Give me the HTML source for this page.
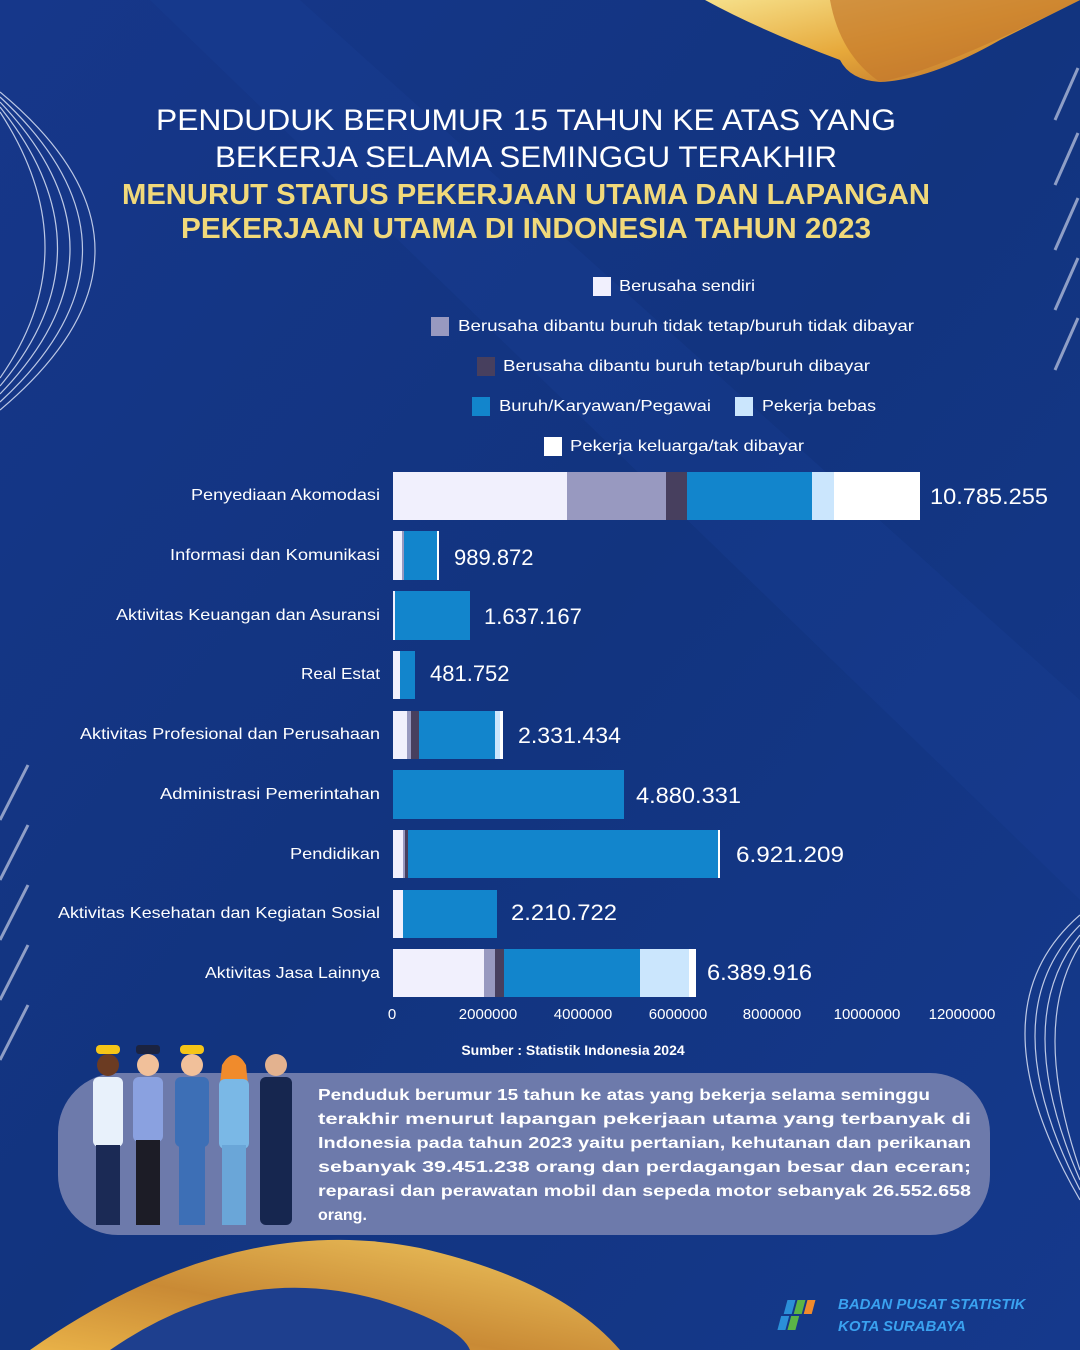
<!DOCTYPE html>
<html><head><meta charset="utf-8"><style>
html,body{margin:0;padding:0;width:1080px;height:1350px;overflow:hidden;background:#123582}
svg{display:block}
text{font-family:"Liberation Sans",sans-serif}
</style></head><body>
<svg width="1080" height="1350" viewBox="0 0 1080 1350" xmlns="http://www.w3.org/2000/svg">
<defs>
<linearGradient id="bg" x1="0" y1="0" x2="1" y2="1">
<stop offset="0" stop-color="#16378a"/><stop offset="0.5" stop-color="#12347f"/><stop offset="1" stop-color="#15398c"/>
</linearGradient>
<linearGradient id="gold" x1="0" y1="0" x2="1" y2="1">
<stop offset="0" stop-color="#f6e08a"/><stop offset="0.5" stop-color="#e6a83a"/><stop offset="1" stop-color="#b5682a"/>
</linearGradient>
<linearGradient id="gold2" x1="0" y1="1" x2="1" y2="0">
<stop offset="0" stop-color="#e9b248"/><stop offset="0.4" stop-color="#c98a35"/><stop offset="1" stop-color="#f0c860"/>
</linearGradient>
</defs>
<rect width="1080" height="1350" fill="url(#bg)"/>
<path d="M300 0 L1080 700 L1080 900 L150 0Z" fill="#1a3f95" opacity="0.35"/>
<!-- top gold -->
<path d="M705 0 L1080 0 L1000 40 Q930 80 880 82 Q850 80 840 60 Q760 30 705 0Z" fill="url(#gold)"/>
<path d="M830 0 Q840 55 880 82 Q940 70 1080 0Z" fill="#c4792c" opacity="0.7"/>
<!-- left arcs -->
<g fill="none" stroke="#cfd8f0" stroke-width="1.2" opacity="0.9">
<path d="M0 92 Q190 250 0 410"/><path d="M0 97 Q165 250 0 402"/><path d="M0 102 Q140 250 0 394"/><path d="M0 107 Q115 250 0 386"/><path d="M0 112 Q90 250 0 378"/>
</g>
<!-- right arcs -->
<g fill="none" stroke="#cfd8f0" stroke-width="1.2" opacity="0.9">
<path d="M1080 915 Q970 1010 1080 1200"/><path d="M1080 925 Q990 1015 1080 1190"/><path d="M1080 935 Q1010 1020 1080 1180"/><path d="M1080 945 Q1030 1025 1080 1170"/>
</g>
<!-- right dashes -->
<g stroke="#aeb9d8" stroke-width="3" opacity="0.8">
<line x1="1055" y1="120" x2="1078" y2="68"/><line x1="1055" y1="185" x2="1078" y2="133"/><line x1="1055" y1="250" x2="1078" y2="198"/><line x1="1055" y1="310" x2="1078" y2="258"/><line x1="1055" y1="370" x2="1078" y2="318"/>
</g>
<g stroke="#aeb9d8" stroke-width="3" opacity="0.8">
<line x1="0" y1="820" x2="28" y2="765"/><line x1="0" y1="880" x2="28" y2="825"/><line x1="0" y1="940" x2="28" y2="885"/><line x1="0" y1="1000" x2="28" y2="945"/><line x1="0" y1="1060" x2="28" y2="1005"/>
</g>
<!-- title -->
<g text-anchor="middle" fill="#ffffff" font-size="30">
<text x="526" y="130" textLength="740" lengthAdjust="spacingAndGlyphs">PENDUDUK BERUMUR 15 TAHUN KE ATAS YANG</text>
<text x="526" y="167" textLength="622" lengthAdjust="spacingAndGlyphs">BEKERJA SELAMA SEMINGGU TERAKHIR</text>
</g>
<g text-anchor="middle" fill="#f1d97a" font-size="29" font-weight="bold">
<text x="526" y="204" textLength="808" lengthAdjust="spacingAndGlyphs">MENURUT STATUS PEKERJAAN UTAMA DAN LAPANGAN</text>
<text x="526" y="238" textLength="690" lengthAdjust="spacingAndGlyphs">PEKERJAAN UTAMA DI INDONESIA TAHUN 2023</text>
</g>
<!-- legend -->
<g font-size="16" fill="#ffffff">
<rect x="593" y="277" width="18" height="19" fill="#f1f0fd"/><text x="619" y="291" textLength="136" lengthAdjust="spacingAndGlyphs">Berusaha sendiri</text>
<rect x="431" y="317" width="18" height="19" fill="#9899c0"/><text x="458" y="331" textLength="456" lengthAdjust="spacingAndGlyphs">Berusaha dibantu buruh tidak tetap/buruh tidak dibayar</text>
<rect x="477" y="357" width="18" height="19" fill="#473f5e"/><text x="503" y="371" textLength="367" lengthAdjust="spacingAndGlyphs">Berusaha dibantu buruh tetap/buruh dibayar</text>
<rect x="472" y="397" width="18" height="19" fill="#1285cc"/><text x="499" y="411" textLength="212" lengthAdjust="spacingAndGlyphs">Buruh/Karyawan/Pegawai</text>
<rect x="735" y="397" width="18" height="19" fill="#cbe6fd"/><text x="762" y="411" textLength="114" lengthAdjust="spacingAndGlyphs">Pekerja bebas</text>
<rect x="544" y="437" width="18" height="19" fill="#ffffff"/><text x="570" y="451" textLength="234" lengthAdjust="spacingAndGlyphs">Pekerja keluarga/tak dibayar</text>
</g>
<!-- category labels -->
<g font-size="16" fill="#ffffff" text-anchor="end">
<text x="380" y="500" textLength="189" lengthAdjust="spacingAndGlyphs">Penyediaan Akomodasi</text>
<text x="380" y="560" textLength="210" lengthAdjust="spacingAndGlyphs">Informasi dan Komunikasi</text>
<text x="380" y="620" textLength="264" lengthAdjust="spacingAndGlyphs">Aktivitas Keuangan dan Asuransi</text>
<text x="380" y="679" textLength="79" lengthAdjust="spacingAndGlyphs">Real Estat</text>
<text x="380" y="739" textLength="300" lengthAdjust="spacingAndGlyphs">Aktivitas Profesional dan Perusahaan</text>
<text x="380" y="799" textLength="220" lengthAdjust="spacingAndGlyphs">Administrasi Pemerintahan</text>
<text x="380" y="859" textLength="90" lengthAdjust="spacingAndGlyphs">Pendidikan</text>
<text x="380" y="918" textLength="322" lengthAdjust="spacingAndGlyphs">Aktivitas Kesehatan dan Kegiatan Sosial</text>
<text x="380" y="978" textLength="175" lengthAdjust="spacingAndGlyphs">Aktivitas Jasa Lainnya</text>
</g>
<!-- bars -->
<g>
<rect x="393" y="472" width="174" height="48" fill="#f1f0fd"/><rect x="567" y="472" width="99" height="48" fill="#9899c0"/><rect x="666" y="472" width="21" height="48" fill="#473f5e"/><rect x="687" y="472" width="125" height="48" fill="#1285cc"/><rect x="812" y="472" width="22" height="48" fill="#cbe6fd"/><rect x="834" y="472" width="86" height="48" fill="#ffffff"/>
<rect x="393" y="531" width="9" height="49" fill="#f1f0fd"/><rect x="402" y="531" width="2" height="49" fill="#9899c0"/><rect x="404" y="531" width="33" height="49" fill="#1285cc"/><rect x="437" y="531" width="2" height="49" fill="#ffffff"/>
<rect x="393" y="591" width="2" height="49" fill="#f1f0fd"/><rect x="395" y="591" width="75" height="49" fill="#1285cc"/>
<rect x="393" y="651" width="7" height="48" fill="#f1f0fd"/><rect x="400" y="651" width="15" height="48" fill="#1285cc"/>
<rect x="393" y="711" width="14" height="48" fill="#f1f0fd"/><rect x="407" y="711" width="4" height="48" fill="#9899c0"/><rect x="411" y="711" width="8" height="48" fill="#473f5e"/><rect x="419" y="711" width="76" height="48" fill="#1285cc"/><rect x="495" y="711" width="5" height="48" fill="#cbe6fd"/><rect x="500" y="711" width="3" height="48" fill="#ffffff"/>
<rect x="393" y="770" width="231" height="49" fill="#1285cc"/>
<rect x="393" y="830" width="10" height="48" fill="#f1f0fd"/><rect x="403" y="830" width="2" height="48" fill="#9899c0"/><rect x="405" y="830" width="3" height="48" fill="#473f5e"/><rect x="408" y="830" width="310" height="48" fill="#1285cc"/><rect x="718" y="830" width="2" height="48" fill="#ffffff"/>
<rect x="393" y="890" width="10" height="48" fill="#f1f0fd"/><rect x="403" y="890" width="94" height="48" fill="#1285cc"/>
<rect x="393" y="949" width="91" height="48" fill="#f1f0fd"/><rect x="484" y="949" width="11" height="48" fill="#9899c0"/><rect x="495" y="949" width="9" height="48" fill="#473f5e"/><rect x="504" y="949" width="136" height="48" fill="#1285cc"/><rect x="640" y="949" width="49" height="48" fill="#cbe6fd"/><rect x="689" y="949" width="7" height="48" fill="#ffffff"/>
</g>
<!-- values -->
<g font-size="22" fill="#ffffff">
<text x="930" y="504" textLength="118" lengthAdjust="spacingAndGlyphs">10.785.255</text>
<text x="454" y="565">989.872</text>
<text x="484" y="624">1.637.167</text>
<text x="430" y="681">481.752</text>
<text x="518" y="743" textLength="103" lengthAdjust="spacingAndGlyphs">2.331.434</text>
<text x="636" y="803" textLength="105" lengthAdjust="spacingAndGlyphs">4.880.331</text>
<text x="736" y="862" textLength="108" lengthAdjust="spacingAndGlyphs">6.921.209</text>
<text x="511" y="920" textLength="106" lengthAdjust="spacingAndGlyphs">2.210.722</text>
<text x="707" y="980" textLength="105" lengthAdjust="spacingAndGlyphs">6.389.916</text>
</g>
<!-- axis -->
<g font-size="15" fill="#ffffff" text-anchor="middle">
<text x="392" y="1019">0</text><text x="488" y="1019">2000000</text><text x="583" y="1019">4000000</text><text x="678" y="1019">6000000</text><text x="772" y="1019">8000000</text><text x="867" y="1019">10000000</text><text x="962" y="1019">12000000</text>
</g>
<text x="573" y="1055" font-family="Liberation Serif,serif" font-weight="bold" font-size="14" fill="#ffffff" text-anchor="middle">Sumber : Statistik Indonesia 2024</text>
<!-- info box -->
<rect x="58" y="1073" width="932" height="162" rx="60" fill="#6d7aab"/>
<g font-size="16" font-weight="bold" fill="#ffffff">
<text x="318" y="1100" textLength="612" lengthAdjust="spacingAndGlyphs">Penduduk berumur 15 tahun ke atas yang bekerja selama seminggu</text>
<text x="318" y="1124" textLength="653" lengthAdjust="spacingAndGlyphs">terakhir  menurut  lapangan  pekerjaan  utama  yang  terbanyak  di</text>
<text x="318" y="1148" textLength="653" lengthAdjust="spacingAndGlyphs">Indonesia pada tahun 2023 yaitu pertanian, kehutanan dan perikanan</text>
<text x="318" y="1172" textLength="653" lengthAdjust="spacingAndGlyphs">sebanyak  39.451.238  orang  dan  perdagangan  besar  dan  eceran;</text>
<text x="318" y="1196" textLength="653" lengthAdjust="spacingAndGlyphs">reparasi dan perawatan mobil dan sepeda motor  sebanyak 26.552.658</text>
<text x="318" y="1220">orang.</text>
</g>
<!-- workers -->
<g>
<g transform="translate(108,1045)"><circle cx="0" cy="20" r="11" fill="#6b3b22"/><rect x="-12" y="0" width="24" height="9" rx="4" fill="#f5c518"/><rect x="-15" y="32" width="30" height="70" rx="6" fill="#e8f1fb"/><rect x="-12" y="100" width="24" height="80" fill="#1b2a55"/></g>
<g transform="translate(148,1045)"><circle cx="0" cy="20" r="11" fill="#f1c09a"/><rect x="-12" y="0" width="24" height="9" rx="3" fill="#1b2340"/><rect x="-15" y="32" width="30" height="65" rx="6" fill="#8aa1e0"/><rect x="-12" y="95" width="24" height="85" fill="#1c1c26"/></g>
<g transform="translate(192,1045)"><circle cx="0" cy="20" r="11" fill="#f1c09a"/><rect x="-12" y="0" width="24" height="9" rx="4" fill="#f5c518"/><rect x="-17" y="32" width="34" height="70" rx="6" fill="#3d6fb6"/><rect x="-13" y="100" width="26" height="80" fill="#3d6fb6"/></g>
<g transform="translate(234,1045)"><circle cx="0" cy="22" r="11" fill="#f1c09a"/><path d="M-12 20 Q0 0 12 20 L14 40 L-14 40Z" fill="#f08b2c"/><rect x="-15" y="34" width="30" height="70" rx="6" fill="#7ab8e6"/><rect x="-12" y="100" width="24" height="80" fill="#6aa6d8"/></g>
<g transform="translate(276,1045)"><circle cx="0" cy="20" r="11" fill="#e3b28f"/><rect x="-16" y="32" width="32" height="148" rx="6" fill="#16264f"/></g>
</g>
<!-- bottom gold -->
<path d="M30 1350 Q230 1210 420 1248 Q560 1280 620 1350Z" fill="url(#gold2)"/>
<path d="M110 1350 Q240 1260 380 1300 Q460 1325 470 1350Z" fill="#1e3f8e"/>
<!-- logo -->
<g transform="translate(784,1298)">
<rect x="4" y="2" width="8" height="14" fill="#2b8fd8" transform="skewX(-15)"/><rect x="14" y="2" width="8" height="14" fill="#5bb446" transform="skewX(-15)"/><rect x="24" y="2" width="8" height="14" fill="#f08b2c" transform="skewX(-15)"/>
<rect x="2" y="18" width="8" height="14" fill="#2b8fd8" transform="skewX(-15)"/><rect x="12" y="18" width="8" height="14" fill="#5bb446" transform="skewX(-15)"/>
</g>
<g font-size="15" font-weight="bold" font-style="italic" fill="#3aa2f0">
<text x="838" y="1309">BADAN PUSAT STATISTIK</text>
<text x="838" y="1331">KOTA SURABAYA</text>
</g>
</svg>
</body></html>
